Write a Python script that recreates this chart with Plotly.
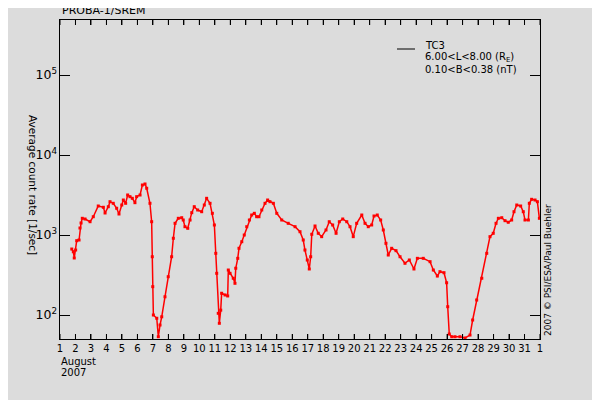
import math
import plotly.graph_objects as go
import pandas as pd

# Day of August 2007 (fractional) and average count rate [1/sec], TC3
days = [1.76, 1.86, 1.92, 2.01, 2.08, 2.23, 2.29, 2.36, 2.44, 2.62, 2.94, 3.15, 3.47, 3.80, 3.91,
        4.12, 4.23, 4.44, 4.66, 4.81, 4.99, 5.09, 5.24, 5.37, 5.52, 5.67, 5.84, 5.95, 6.17, 6.32,
        6.49, 6.60, 6.81, 6.92, 6.96, 6.99, 7.03, 7.25, 7.35, 7.46, 7.57, 7.78, 7.99, 8.21, 8.32,
        8.43, 8.64, 8.86, 8.96, 9.07, 9.25, 9.40, 9.51, 9.67, 9.89, 10.15, 10.32, 10.47, 10.69,
        10.84, 10.97, 11.06, 11.12, 11.22, 11.29, 11.38, 11.44, 11.66, 11.83, 11.87, 11.98, 12.19,
        12.30, 12.35, 12.48, 12.56, 12.74, 12.90, 13.06, 13.23, 13.38, 13.55, 13.70, 13.85, 14.03,
        14.24, 14.41, 14.56, 14.78, 15.00, 15.32, 15.74, 16.18, 16.50, 16.71, 16.82, 16.97, 17.10,
        17.19, 17.26, 17.47, 17.68, 17.90, 18.18, 18.39, 18.61, 18.83, 19.04, 19.26, 19.52, 19.73,
        19.94, 20.16, 20.49, 20.70, 20.91, 21.13, 21.28, 21.49, 21.71, 21.88, 22.05, 22.20, 22.42,
        22.70, 22.96, 23.28, 23.56, 23.86, 24.08, 24.46, 24.90, 25.11, 25.37, 25.54, 25.80, 25.97,
        26.04, 26.14, 26.30, 26.51, 26.83, 27.16, 27.48, 27.65, 27.91, 28.24, 28.56, 28.77, 28.98,
        29.16, 29.31, 29.53, 29.74, 29.95, 30.17, 30.32, 30.50, 30.75, 30.92, 31.03, 31.25, 31.31,
        31.46, 31.68, 31.83, 31.96]
counts = [668, 618, 516, 649, 849, 866, 1223, 1413, 1617, 1585, 1466, 1693, 2304, 2220, 1884,
          2259, 2608, 2490, 2157, 1830, 2371, 2738, 2490, 3162, 3013, 2875, 2535, 3013, 3162, 4217,
          4341, 3837, 2490, 1466, 535, 226, 100, 91, 53.5, 75, 95, 169, 301, 535, 910,
          1400, 1617, 1645, 1540, 1270, 1213, 1540, 1901, 2259, 2054, 1955, 2371, 2875, 2490,
          1867, 1334, 590, 332, 105, 78.8, 115, 187, 178, 173, 365, 332, 288,
          249, 384, 511, 682, 824, 1000, 1270, 1540, 1778, 1867, 1693, 1693, 2054,
          2490, 2738, 2608, 2490, 1867, 1540, 1400, 1270, 1099, 866, 649, 487, 376,
          535, 1020, 1296, 1050, 953, 1155, 1466, 1334, 1050, 1466, 1585, 1466, 1270,
          953, 1400, 1778, 1400, 1270, 1334, 1728, 1778, 1540, 1155, 787, 562, 682,
          637, 535, 443, 487, 376, 511, 511, 464, 365, 307, 348, 338, 253,
          127, 57.9, 53.5, 53.5, 53.5, 51.6, 56.2, 86.6, 154, 288, 590, 953, 1050,
          1400, 1617, 1645, 1510, 1442, 1540, 1955, 2371, 2304, 1955, 1540, 1540, 2490,
          2793, 2738, 2608, 1617]

START = pd.Timestamp("2007-08-01")
END = pd.Timestamp("2007-09-01")
times = [START + pd.to_timedelta(d - 1, unit="D") for d in days]
tick_days = [START + pd.Timedelta(days=i) for i in range(32)]

BG = "#DCDCDC"
FONT = "DejaVu Sans"
Y_RANGE = [1.7, 5.6875]
y_major = [10 ** e for e in range(2, 6)]
y_minor = [m * 10 ** e for e in range(1, 6) for m in range(2, 10)
           if Y_RANGE[0] <= math.log10(m * 10 ** e) <= Y_RANGE[1]]

fig = go.Figure()
fig.add_trace(go.Scatter(
    x=times, y=counts, mode="lines+markers",
    line=dict(color="#FF0000", width=1.5),
    marker=dict(color="#FF0000", size=3, symbol="square"),
    showlegend=False,
))

# page body has an 8px margin: figure of 592x392 so plot area sits at 60..540 x 20..339
fig.update_layout(
    template="none",
    width=592, height=392,
    margin=dict(l=52, r=60, t=12, b=61),
    paper_bgcolor=BG, plot_bgcolor=BG,
    font=dict(family=FONT, size=10, color="black"),
    xaxis=dict(
        type="date", range=[START, END], tick0=START, dtick=86400000, tickformat="%-d",
        ticks="inside", ticklen=5, tickwidth=1, tickcolor="#000000", showline=True,
        linecolor="black", mirror="ticks", showgrid=False,
        tickfont=dict(size=10, family=FONT),
    ),
    yaxis=dict(
        type="log", range=Y_RANGE, tick0=0, dtick=1, exponentformat="power",
        showexponent="all", ticks="inside", ticklen=10, tickwidth=1, tickcolor="#000000",
        showline=True, linecolor="black", mirror="ticks",
        showgrid=False, tickfont=dict(size=10, family=FONT),
    ),
)

def px_x(px):
    return (px - 60) / 480.0

def px_y(py):
    return (339 - py) / 319.0

# tick marks along the axes' own scales, on all four sides
tick_line = dict(color="#000000", width=1)
xt = 5 / 319.0
for t in tick_days:
    fig.add_shape(type="line", xref="x", yref="paper", x0=t, x1=t, y0=0, y1=xt,
                  line=tick_line, layer="above")
    fig.add_shape(type="line", xref="x", yref="paper", x0=t, x1=t, y0=1 - xt, y1=1,
                  line=tick_line, layer="above")
for vals, ln in [(y_major, 10 / 480.0), (y_minor, 5 / 480.0)]:
    for v in vals:
        lv = math.log10(v)
        fig.add_shape(type="line", xref="paper", yref="y", x0=0, x1=ln, y0=lv, y1=lv,
                      line=tick_line, layer="above")
        fig.add_shape(type="line", xref="paper", yref="y", x0=1 - ln, x1=1, y0=lv, y1=lv,
                      line=tick_line, layer="above")

ann = []
ann.append(dict(text="PROBA-1/SREM", x=px_x(60), y=px_y(10), xanchor="left", yanchor="middle",
                font=dict(size=11)))
ann.append(dict(text="Average count rate [1/sec]", x=px_x(33), y=px_y(185), textangle=90,
                xanchor="center", yanchor="middle", font=dict(size=10.5)))
ann.append(dict(text="2007 © PSI/ESA/Paul Buehler", x=px_x(548), y=px_y(338), textangle=-90,
                xanchor="center", yanchor="bottom", font=dict(size=9)))
ann.append(dict(text="August", x=px_x(59), y=px_y(361), xanchor="left", yanchor="middle",
                font=dict(size=10)))
ann.append(dict(text="2007", x=px_x(59), y=px_y(373), xanchor="left", yanchor="middle",
                font=dict(size=10)))
for txt, py in [("TC3", 46), ("6.00&lt;L&lt;8.00 (R<sub>E</sub>)", 57.5), ("0.10&lt;B&lt;0.38 (nT)", 69.5)]:
    ann.append(dict(text=txt, x=px_x(423), y=px_y(py), xanchor="left", yanchor="middle",
                    font=dict(size=10)))
for a in ann:
    a.update(xref="paper", yref="paper", showarrow=False)
fig.update_layout(annotations=ann)

fig.add_shape(type="line", xref="paper", yref="paper", x0=px_x(397), x1=px_x(415),
              y0=px_y(49), y1=px_y(49), line=dict(color="black", width=1))

fig.write_html("out.html")
